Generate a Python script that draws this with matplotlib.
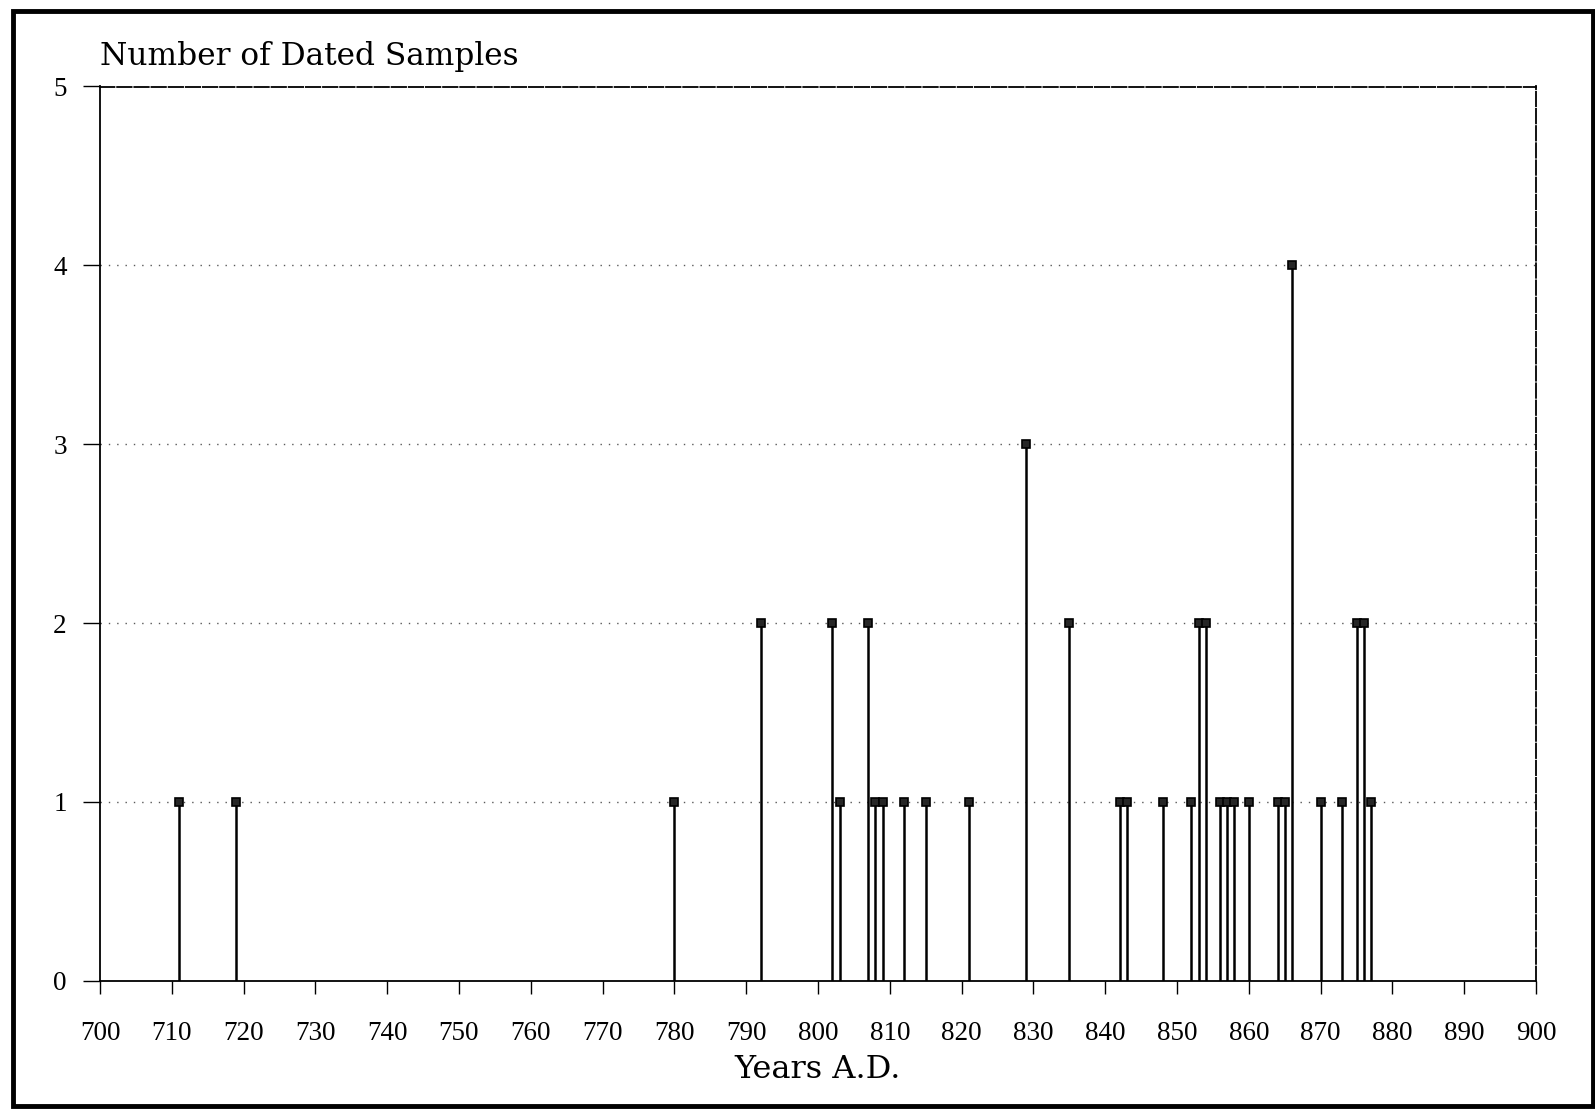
import matplotlib
matplotlib.use("Agg")
import matplotlib.pyplot as plt
from matplotlib.patches import Rectangle

years = [711, 719, 780, 792, 802, 803, 807, 808, 809, 812, 815, 821, 829, 835,
         842, 843, 848, 852, 853, 854, 856, 857, 858, 860, 864, 865, 866, 870,
         873, 875, 876, 877]
counts = [1, 1, 1, 2, 2, 1, 2, 1, 1, 1, 1, 1, 3, 2,
          1, 1, 1, 1, 2, 2, 1, 1, 1, 1, 1, 1, 4, 1,
          1, 2, 2, 1]
xticks = list(range(700, 901, 10))
yticks = [0, 1, 2, 3, 4, 5]

fig = plt.figure(figsize=(15.95, 11.09), dpi=100)
ax = fig.add_axes([100/1595, 1-980.7/1109, 1436/1595, (980.7-86.5)/1109])

for y in [1, 2, 3, 4]:
    ax.axhline(y, color='0.35', lw=1.0, linestyle=(0, (1, 5)), zorder=1)

ax.vlines(years, 0, counts, color='black', lw=1.8, zorder=2)
ax.plot(years, counts, linestyle='none', marker='s', markersize=6,
        mfc='0.15', mec='black', mew=1.2, zorder=3)

ax.set_xlim(700, 900)
ax.set_ylim(0, 5)
ax.set_xticks(xticks)
ax.set_yticks(yticks)
ax.set_xticklabels([str(t) for t in xticks], fontfamily='Liberation Serif', fontsize=19.5)
ax.set_yticklabels([str(t) for t in yticks], fontfamily='Liberation Serif', fontsize=19.5)
ax.tick_params(axis='x', direction='out', length=9, width=1, pad=20)
ax.tick_params(axis='y', direction='out', length=12, width=1, pad=12)

for s in ['top', 'right']:
    ax.spines[s].set_linestyle((0, (8, 1.5)))
    ax.spines[s].set_linewidth(1.3)
for s in ['left', 'bottom']:
    ax.spines[s].set_linestyle((0, (10, 1, 1, 1)))
    ax.spines[s].set_linewidth(1.3)

ax.set_xlabel('Years A.D.', fontfamily='DejaVu Serif', fontsize=23, labelpad=6)
fig.text(100/1595, 1-56/1109, 'Number of Dated Samples', fontfamily='DejaVu Serif',
         fontsize=22.5, va='center', ha='left')

fig.patches.append(Rectangle((13/1595, 1-1106/1109), (1593-13)/1595, (1106-11)/1109,
                             transform=fig.transFigure, fill=False, lw=3.5,
                             edgecolor='black'))

fig.savefig('out.png', dpi=100)
